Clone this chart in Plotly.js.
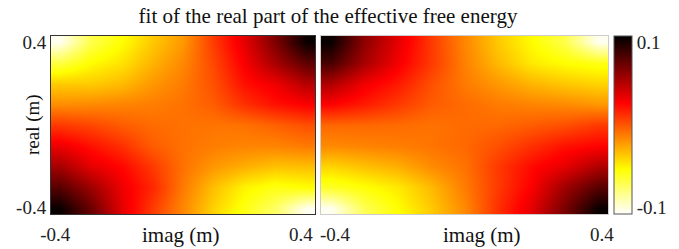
<!DOCTYPE html>
<html>
<head>
<meta charset="utf-8">
<script src="https://cdn.plot.ly/plotly-3.0.1.min.js"></script>
<style>html,body{margin:0;padding:0;background:#fff;}#chart{width:679px;height:249px;}</style>
</head>
<body>
<div id="chart"></div>
<script>
// grid coordinates (m)
var imagVals = [-0.4, -0.3, -0.2, -0.1, 0.0, 0.1, 0.2, 0.3, 0.4];
var realVals = [-0.4, -0.3, -0.2, -0.1, 0.0, 0.1, 0.2, 0.3, 0.4];

// left panel values, rows from real = -0.4 (bottom) to 0.4 (top)
var leftRow_m04 = [0.105, 0.074, 0.035, 0.009, -0.016, -0.040, -0.058, -0.075, -0.105];
var leftRow_m03 = [0.080, 0.058, 0.032, 0.015, -0.012, -0.034, -0.050, -0.058, -0.054];
var leftRow_m02 = [0.055, 0.035, 0.025, 0.009, -0.009, -0.021, -0.028, -0.034, -0.033];
var leftRow_m01 = [0.033, 0.022, 0.012, -0.002, -0.009, -0.013, -0.015, -0.015, -0.012];
var leftRow_0   = [0.009, 0.005, -0.002, -0.007, -0.009, -0.010, -0.009, -0.004, 0.002];
var leftRow_p01 = [-0.018, -0.017, -0.015, -0.013, -0.009, -0.002, 0.012, 0.022, 0.028];
var leftRow_p02 = [-0.037, -0.037, -0.032, -0.021, -0.012, 0.002, 0.022, 0.032, 0.050];
var leftRow_p03 = [-0.068, -0.053, -0.045, -0.030, -0.016, 0.005, 0.029, 0.055, 0.078];
var leftRow_p04 = [-0.105, -0.070, -0.054, -0.037, -0.021, 0.009, 0.035, 0.068, 0.105];

// right panel values
var rightRow_m04 = [-0.105, -0.072, -0.054, -0.037, -0.016, 0.012, 0.035, 0.070, 0.105];
var rightRow_m03 = [-0.062, -0.055, -0.047, -0.032, -0.012, 0.009, 0.028, 0.058, 0.080];
var rightRow_m02 = [-0.040, -0.034, -0.028, -0.017, -0.009, 0.009, 0.024, 0.035, 0.052];
var rightRow_m01 = [-0.017, -0.015, -0.013, -0.010, -0.006, 0.002, 0.012, 0.022, 0.027];
var rightRow_0   = [-0.006, -0.006, -0.007, -0.009, -0.007, -0.006, -0.002, 0.002, 0.009];
var rightRow_p01 = [0.027, 0.019, 0.009, -0.002, -0.007, -0.012, -0.015, -0.017, -0.021];
var rightRow_p02 = [0.052, 0.031, 0.019, 0.002, -0.012, -0.021, -0.030, -0.036, -0.040];
var rightRow_p03 = [0.085, 0.055, 0.030, 0.009, -0.014, -0.032, -0.047, -0.054, -0.058];
var rightRow_p04 = [0.105, 0.063, 0.035, 0.009, -0.016, -0.037, -0.053, -0.070, -0.105];

var axisTicks = [-0.4, 0.4];
var axisTickText = ['-0.4', '0.4'];
var cbTicks = [-0.1, 0.1];
var cbTickText = ['-0.1', '0.1'];

var leftZ = [leftRow_m04, leftRow_m03, leftRow_m02, leftRow_m01, leftRow_0, leftRow_p01, leftRow_p02, leftRow_p03, leftRow_p04];
var rightZ = [rightRow_m04, rightRow_m03, rightRow_m02, rightRow_m01, rightRow_0, rightRow_p01, rightRow_p02, rightRow_p03, rightRow_p04];

var hotRev = [[0, 'rgb(255,255,255)'], [0.25, 'rgb(255,255,0)'], [0.625, 'rgb(255,0,0)'], [1, 'rgb(0,0,0)']];
var FONT = 'Liberation Serif, Times New Roman, serif';

var traces = [
  {type: 'heatmap', x: imagVals, y: realVals, z: leftZ, colorscale: hotRev, zmin: -0.108, zmax: 0.108,
   zsmooth: 'best', showscale: false, xaxis: 'x', yaxis: 'y'},
  {type: 'heatmap', x: imagVals, y: realVals, z: rightZ, colorscale: hotRev, zmin: -0.108, zmax: 0.108,
   zsmooth: 'best', showscale: true, xaxis: 'x2', yaxis: 'y2',
   colorbar: {x: 614/679, xanchor: 'left', y: 35/249, yanchor: 'bottom', len: 178/249, lenmode: 'fraction',
     thickness: 18, xpad: 0, ypad: 0, outlinewidth: 1, outlinecolor: '#555',
     tickvals: cbTicks, ticktext: cbTickText, ticks: '',
     tickfont: {family: FONT, size: 19, color: '#222'}}}
];

var baseAxis = {range: [-0.43, 0.43], tickvals: axisTicks, ticktext: axisTickText, ticks: '',
  showgrid: false, zeroline: false, showline: true, mirror: true, linewidth: 1,
  tickfont: {family: FONT, size: 19, color: '#222'}};

var layout = {
  width: 679, height: 249,
  margin: {l: 0, r: 0, t: 0, b: 0},
  paper_bgcolor: '#fff', plot_bgcolor: '#fff',
  font: {family: FONT, color: '#222'},
  title: {text: 'fit of the real part of the effective free energy', x: 328/679, xanchor: 'center',
    y: 1 - 16/249, yref: 'container', yanchor: 'middle', font: {family: FONT, size: 21, color: '#111'}},
  xaxis: Object.assign({}, baseAxis, {domain: [51/679, 315/679], anchor: 'y', linecolor: '#333',
    ticklabelshift: -5, ticklabelstandoff: 3}),
  yaxis: Object.assign({}, baseAxis, {domain: [35/249, 213/249], anchor: 'x', linecolor: '#333'}),
  xaxis2: Object.assign({}, baseAxis, {domain: [321/679, 608/679], anchor: 'y2', linecolor: '#ccc',
    ticklabelshift: 4, ticklabelstandoff: 3}),
  yaxis2: Object.assign({}, baseAxis, {domain: [35/249, 213/249], anchor: 'x2', linecolor: '#ccc', showticklabels: false}),
  annotations: [
    {text: 'real (m)', xref: 'paper', yref: 'paper', x: 33/679, y: 124/249, textangle: -90,
     showarrow: false, xanchor: 'center', yanchor: 'middle', font: {family: FONT, size: 19, color: '#111'}},
    {text: 'imag (m)', xref: 'paper', yref: 'paper', x: 181/679, y: 14/249,
     showarrow: false, xanchor: 'center', yanchor: 'middle', font: {family: FONT, size: 21, color: '#111'}},
    {text: 'imag (m)', xref: 'paper', yref: 'paper', x: 482/679, y: 14/249,
     showarrow: false, xanchor: 'center', yanchor: 'middle', font: {family: FONT, size: 21, color: '#111'}}
  ]
};

Plotly.newPlot('chart', traces, layout, {displayModeBar: false, staticPlot: true});
</script>
</body>
</html>
